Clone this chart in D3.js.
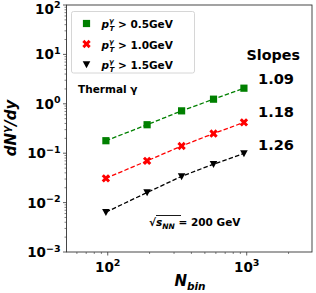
<!DOCTYPE html>
<html>
<head>
<meta charset="utf-8">
<script src="https://cdn.jsdelivr.net/npm/d3@7"></script>
<style>
  body { margin: 0; background: #fff; }
  text { font-family: "DejaVu Sans", sans-serif; font-weight: bold; }
</style>
</head>
<body>
<div id="chart"></div>
<script>
// N_bin (x) and thermal photon yields for three pT cuts
const nbin = [97, 192, 340, 577, 955];
const yield05 = [0.179, 0.377, 0.72, 1.24, 2.07];
const yield10 = [0.031, 0.070, 0.14, 0.25, 0.42];
const yield15 = [0.0064, 0.016, 0.034, 0.060, 0.099];
const cuts = ["0.5", "1.0", "1.5"];
const slopes = ["1.09", "1.18", "1.26"];
const xTicks = [100, 1000];
const yTicks = [1e-3, 1e-2, 1e-1, 1, 10, 100];

const width = 316, height = 293;
const m = { left: 66.5, right: 4, top: 5, bottom: 41 };

const svg = d3.select("#chart").append("svg")
    .attr("width", width)
    .attr("height", height);

const x = d3.scaleLog().domain([50.5, 2950]).range([m.left, width - m.right]);
const y = d3.scaleLog().domain([1e-3, 1e2]).range([height - m.bottom, m.top]);

const series = [
  { vals: yield05, color: "#008000", sym: "square" },
  { vals: yield10, color: "#ff0000", sym: "x" },
  { vals: yield15, color: "#000000", sym: "tri" }
];

function marker(g, sym, color) {
  if (sym === "square") {
    g.append("rect").attr("x", -3.6).attr("y", -3.6).attr("width", 7.2).attr("height", 7.2)
      .attr("fill", color);
  } else if (sym === "x") {
    g.append("path").attr("d", d3.symbol(d3.symbolCross, 44)())
      .attr("transform", "rotate(45)").attr("fill", color);
  } else {
    g.append("path").attr("d", "M-3.8,-3.2L3.8,-3.2L0,3.8Z").attr("fill", color);
  }
}

// minor ticks
const minorX = [];
[10, 100, 1000].forEach(d => { for (let k = 2; k < 10; k++) { const v = d * k; if (v > 50.5 && v < 2950) minorX.push(v); } });
const minorY = [];
[1e-3, 1e-2, 1e-1, 1, 10].forEach(d => { for (let k = 2; k < 10; k++) minorY.push(d * k); });

const axisColor = "#333";
const yb = height - m.bottom;
svg.append("g").selectAll("line").data(minorX).join("line")
  .attr("x1", d => x(d)).attr("x2", d => x(d)).attr("y1", yb).attr("y2", yb + 2)
  .attr("stroke", axisColor).attr("stroke-width", 0.6);
svg.append("g").selectAll("line").data(xTicks).join("line")
  .attr("x1", d => x(d)).attr("x2", d => x(d)).attr("y1", yb).attr("y2", yb + 3.5)
  .attr("stroke", axisColor).attr("stroke-width", 0.8);
svg.append("g").selectAll("line").data(minorY).join("line")
  .attr("x1", m.left - 2).attr("x2", m.left).attr("y1", d => y(d)).attr("y2", d => y(d))
  .attr("stroke", axisColor).attr("stroke-width", 0.6);
svg.append("g").selectAll("line").data(yTicks).join("line")
  .attr("x1", m.left - 3.5).attr("x2", m.left).attr("y1", d => y(d)).attr("y2", d => y(d))
  .attr("stroke", axisColor).attr("stroke-width", 0.8);

// tick labels
const xl = svg.append("g").selectAll("text").data(xTicks).join("text")
  .attr("x", d => x(d)).attr("y", yb + 20).attr("text-anchor", "middle")
  .attr("font-size", 13.5);
xl.append("tspan").text("10");
xl.append("tspan").attr("dy", -6).attr("font-size", 9.5).text(d => Math.round(Math.log10(d)));

const yl = svg.append("g").selectAll("text").data(yTicks).join("text")
  .attr("x", m.left - 6).attr("y", d => Math.max(y(d) + 5, 13.5)).attr("text-anchor", "end")
  .attr("font-size", 13.5);
yl.append("tspan").text("10");
yl.append("tspan").attr("dy", -5.5).attr("font-size", 9.5)
  .text(d => { const e = Math.round(Math.log10(d)); return e < 0 ? "\u2212" + (-e) : e; });

// frame
svg.append("rect").attr("x", m.left).attr("y", m.top)
  .attr("width", width - m.left - m.right).attr("height", height - m.top - m.bottom)
  .attr("fill", "none").attr("stroke", axisColor).attr("stroke-width", 0.9);

// axis titles
const xt = svg.append("text").attr("x", 190).attr("y", 286).attr("text-anchor", "middle")
  .attr("font-size", 15).attr("font-style", "italic");
xt.append("tspan").text("N");
xt.append("tspan").attr("dy", 4).attr("font-size", 10.5).text("bin");

const yt = svg.append("text").attr("transform", "translate(16,128) rotate(-90)")
  .attr("text-anchor", "middle").attr("font-size", 15).attr("font-style", "italic");
yt.append("tspan").text("dN");
yt.append("tspan").attr("dy", -6).attr("font-size", 10.5).text("\u03b3");
yt.append("tspan").attr("dy", 6).text("/dy");

// series
const line = d3.line().x((d, i) => x(nbin[i])).y(d => y(d));
series.forEach(s => {
  svg.append("path").datum(s.vals).attr("d", line)
    .attr("fill", "none").attr("stroke", s.color).attr("stroke-width", 1.3)
    .attr("stroke-dasharray", "4.5,2.2");
  s.vals.forEach((v, i) => {
    const g = svg.append("g").attr("transform", `translate(${x(nbin[i])},${y(v)})`);
    marker(g, s.sym, s.color);
  });
});

// legend
svg.append("rect").attr("x", 71.5).attr("y", 11.5).attr("width", 123).attr("height", 61.5)
  .attr("rx", 2).attr("fill", "#fff").attr("stroke", "#ccc").attr("stroke-width", 0.8);
series.forEach((s, i) => {
  const ly = 23.5 + i * 20.5;
  marker(svg.append("g").attr("transform", `translate(86.5,${ly})`), s.sym, s.color);
  const t = svg.append("text").attr("x", 101.5).attr("y", ly + 4.5).attr("font-size", 10.5);
  t.append("tspan").attr("font-style", "italic").text("p");
  t.append("tspan").attr("font-style", "italic").attr("font-size", 7).attr("dy", -5).text("\u03b3");
  t.append("tspan").attr("font-style", "italic").attr("font-size", 7).attr("dx", -4.3).attr("dy", 8).text("T");
  t.append("tspan").attr("dy", -3).text(" > " + cuts[i] + "GeV");
});

// annotations
svg.append("text").attr("x", 78).attr("y", 93).attr("font-size", 10.5).text("Thermal \u03b3");
svg.append("text").attr("x", 246.5).attr("y", 60).attr("font-size", 14.3).text("Slopes");
const slopeY = [84, 117, 150];
slopes.forEach((s, i) => {
  svg.append("text").attr("x", 258).attr("y", slopeY[i]).attr("font-size", 14.6).text(s);
});
const st = svg.append("text").attr("x", 149).attr("y", 226).attr("font-size", 10.5);
st.append("tspan").text("\u221a");
st.append("tspan").attr("font-style", "italic").text("s");
st.append("tspan").attr("font-style", "italic").attr("font-size", 7.5).attr("dy", 3).text("NN");
st.append("tspan").attr("dy", -3).text(" = 200 GeV");
// radical overline over s_NN
svg.append("line").attr("x1", 156).attr("x2", 181).attr("y1", 215.5).attr("y2", 215.5)
  .attr("stroke", "#000").attr("stroke-width", 0.9);
</script>
</body>
</html>
